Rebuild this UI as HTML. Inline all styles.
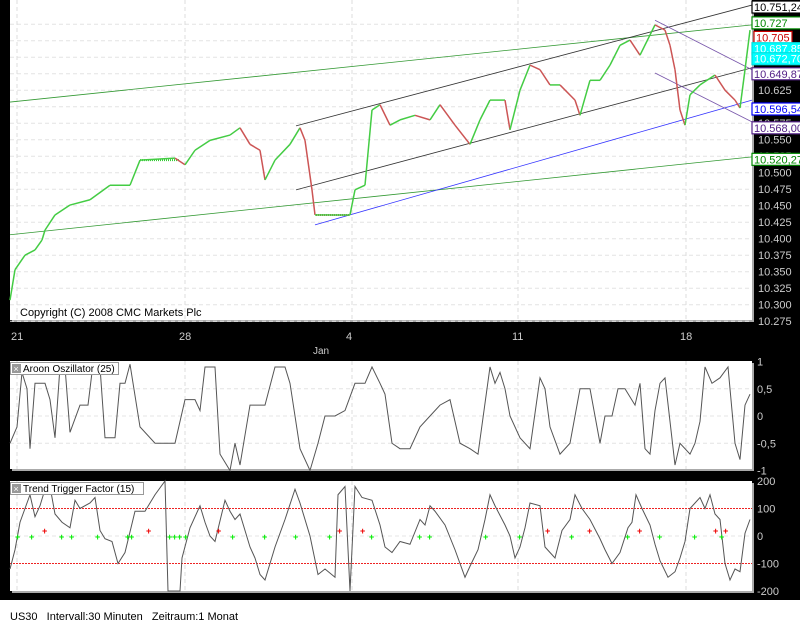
<!DOCTYPE html>
<html><head><meta charset="utf-8"><style>
html,body{margin:0;padding:0;background:#000;}
svg{display:block;font-family:"Liberation Sans",sans-serif;}
</style></head><body>
<svg id="c" width="800" height="625" xmlns="http://www.w3.org/2000/svg">
<rect x="0" y="0" width="800" height="625" fill="#000"/>
<rect x="0" y="600" width="800" height="25" fill="#fff"/>
<text x="10" y="620" font-size="11" fill="#000">US30&#160;&#160;&#160;Intervall:30 Minuten&#160;&#160;&#160;Zeitraum:1 Monat</text>
<g id="g"></g>
</svg>
<script>
// price data (time index, close)
const priceT=[10,15,25,35,42,45,55,70,90,110,130,140,175,185,195,210,230,240,250,260,265,275,290,300,305,312,315,330,350,355,365,372,380,390,400,415,430,440,455,470,480,490,505,510,520,530,540,550,560,575,580,590,600,610,620,630,640,655,665,670,675,680,685,690,700,715,725,735,740,745,750];
const priceV=[10.307,10.353,10.375,10.383,10.398,10.413,10.436,10.451,10.459,10.481,10.481,10.519,10.522,10.512,10.534,10.549,10.557,10.568,10.543,10.534,10.489,10.519,10.543,10.568,10.549,10.474,10.436,10.436,10.436,10.474,10.481,10.595,10.603,10.572,10.580,10.587,10.580,10.603,10.572,10.543,10.580,10.610,10.610,10.565,10.625,10.663,10.656,10.633,10.633,10.610,10.587,10.640,10.640,10.663,10.693,10.701,10.678,10.724,10.716,10.693,10.656,10.595,10.572,10.618,10.633,10.648,10.625,10.610,10.598,10.656,10.716];
const priceTicks=[10.275,10.300,10.325,10.350,10.375,10.400,10.425,10.450,10.475,10.500,10.525,10.550,10.575,10.600,10.625,10.650,10.675,10.700,10.725];
const dateTicks=[17,185,352,518,686];
const dateLabels=["21","28","4","11","18"];
const aroonT=[10,17,22,27,30,35,45,50,55,60,65,70,80,88,92,100,105,115,120,125,130,140,155,160,175,185,195,200,205,215,220,230,235,240,250,265,275,285,290,300,310,318,325,335,345,355,365,372,380,385,392,400,410,420,430,440,450,460,470,478,490,495,500,505,510,520,530,540,545,550,560,570,580,590,600,605,612,618,625,635,640,645,650,655,660,665,670,675,680,690,695,700,705,712,720,728,735,740,745,750];
const aroonV=[-0.5,-0.2,0.8,0.5,-0.6,0.6,0.6,0.3,-0.4,0.9,0.9,-0.3,0.2,0.2,0.8,0.9,-0.4,-0.4,0.6,0.6,0.95,-0.2,-0.5,-0.5,-0.5,0.3,0.3,0.1,0.9,0.9,-0.7,-1,-0.5,-0.9,0.2,0.2,0.9,0.9,0.6,-0.6,-1,-0.5,0,0,0.1,0.6,0.6,0.9,0.6,0.4,-0.5,-0.6,-0.6,-0.2,0,0.2,0.3,-0.5,-0.6,-0.7,0.9,0.6,0.8,0.5,0,-0.4,-0.6,0.7,0.5,-0.2,-0.7,-0.5,0.5,0.5,-0.5,0,0,0.5,0.5,0.2,0.6,-0.6,-0.7,0.1,0.6,0.7,-0.1,-0.9,-0.5,-0.7,-0.5,-0.1,0.9,0.6,0.7,0.9,-0.5,-0.8,0.2,0.4];
const aroonTicks=[1,0.5,0,-0.5,-1];
const aroonLabels=["1","0,5","0","-0,5","-1"];
const ttfT=[10,15,20,25,30,35,40,45,50,55,62,70,75,80,90,95,100,105,112,118,125,135,145,155,165,168,180,182,190,200,205,210,215,225,230,235,240,250,255,260,265,275,285,295,300,310,318,325,335,338,345,350,355,362,372,380,385,392,400,410,420,425,430,435,445,455,465,470,478,485,490,495,505,510,515,520,525,530,540,545,550,555,562,570,575,582,590,600,605,612,620,628,632,636,642,650,655,660,668,675,680,685,690,700,705,710,715,720,725,730,735,740,745,750];
const ttfV=[-120,-50,50,100,150,70,110,170,180,80,50,30,130,100,120,140,20,-10,-20,-100,-60,90,90,150,200,-200,-200,-80,30,110,50,0,-20,130,90,60,80,-40,-80,-140,-160,-40,60,170,120,0,-140,-120,-150,150,180,-200,180,140,130,40,-40,-60,-20,-30,60,40,110,90,40,-50,-150,-110,-50,60,150,110,40,0,-80,-40,30,120,110,-40,-60,-80,20,60,150,100,60,-10,-50,-100,-60,30,50,150,100,40,-30,-90,-150,-130,-80,-20,100,140,100,150,80,60,-100,-160,-120,-130,10,60];
const ttfTicks=[200,100,0,-100,-200];
const buyT=[18,32,62,72,98,128,132,170,175,180,186,233,265,296,330,372,420,430,486,520,572,628,660,695,722];
const sellT=[45,149,219,340,363,548,590,640,716,726];
// drawn objects
const lineT1=[10,10,296,296,315,655,655];
const lineP1=[10.607,10.406,10.571,10.474,10.421,10.731,10.651];
const lineT2=[752,752,752,752,752,752,752];
const lineP2=[10.724,10.524,10.754,10.659,10.610,10.656,10.577];
const lineC=["#339933","#339933","#333","#333","#3333ff","#7755aa","#7755aa"];
const labelV=[10.751,10.727,10.705,10.68785,10.6727,10.64987,10.59654,10.568,10.52027];
const labelTxt=["10.751,243","10.727","10.705","10.687,85","10.672,70","10.649,87","10.596,54","10.568,00","10.520,27"];
const labelCol=["#000","#008800","#cc0000","#00e0e0","#00e0e0","#552288","#0000ff","#552288","#008800"];

const NS="http://www.w3.org/2000/svg";
const g=document.getElementById('g');
function mk(tag,at,parent){const e=document.createElementNS(NS,tag);for(const k in at)e.setAttribute(k,at[k]);(parent||g).appendChild(e);return e;}
const L=10,R=752;
const x=t=>L+(t-10)*(R-L)/(752-10);
const yP=p=>40.7+(10.700-p)/0.025*16.5;
const yA=v=>416-v*54.5;
const yT=v=>536-v*0.275;

function panel(name,y0,h){
  const r=mk('rect',{x:L+2,y:y0+2,width:R-L,height:h,fill:'#aaa'});
  
  
  const p=mk('rect',{x:L,y:y0,width:R-L,height:h,fill:'#fff'});
  
  
}
panel('price-panel',0,320);
panel('aroon-panel',361,108);
panel('ttf-panel',481,110);

priceTicks.forEach(v=>{
  const l=mk('line',{x1:L,x2:R,y1:yP(v),y2:yP(v),stroke:'#e4e4e4','stroke-dasharray':'4,3'});
  
  
  const t=mk('text',{x:758,y:yP(v)+4,'font-size':11,fill:'#ccc'});
  t.textContent=v.toFixed(3);
  
  
});
dateTicks.forEach((d,i)=>{
  [[0,320],[361,469],[481,591]].forEach(([a,b])=>{
    const l=mk('line',{x1:x(d),x2:x(d),y1:a,y2:b,stroke:'#ddd','stroke-dasharray':'4,3'});
    
    
  });
  const t=mk('text',{x:x(d)-6,y:340,'font-size':11,fill:'#ccc'});
  t.textContent=dateLabels[i];
  
  
});
const jan=mk('text',{x:313,y:354,'font-size':10,fill:'#ccc'});jan.textContent='Jan';



lineT1.forEach((t,i)=>{
  const l=mk('line',{x1:x(t),y1:yP(lineP1[i]),x2:x(lineT2[i]),y2:yP(lineP2[i]),stroke:lineC[i],'stroke-width':0.8});
  
  
});
const f1=mk('line',{x1:x(140),x2:x(180),y1:yP(10.519),y2:yP(10.519),stroke:'#33cc33','stroke-width':2,'stroke-dasharray':'1,1'});


const f2=mk('line',{x1:x(316),x2:x(350),y1:yP(10.436),y2:yP(10.436),stroke:'#cc4444','stroke-width':2,'stroke-dasharray':'1,1'});



for(let i=1;i<priceT.length;i++){
  const up=priceV[i]>=priceV[i-1];
  const s=mk('line',{x1:x(priceT[i-1]),y1:yP(priceV[i-1]),x2:x(priceT[i]),y2:yP(priceV[i]),stroke:up?'#44cc44':'#cc5555','stroke-width':1.5});
  
  
}
const cp=mk('text',{x:20,y:316,'font-size':11,fill:'#000'});cp.textContent='Copyright (C) 2008 CMC Markets Plc';



labelV.forEach((v,i)=>{
  const cy=yP(v);const cyan=labelCol[i]==='#00e0e0';const w=i===2?38:50;
  const r=mk('rect',{x:i===2?754:752,y:cy-6,width:w,height:12,fill:cyan?'#00ffff':'#fff',stroke:labelCol[i],'stroke-width':1.2});
  
  
  const t=mk('text',{x:(i===2?756:754),y:cy+4,'font-size':11,fill:cyan?'#fff':labelCol[i]});
  t.textContent=labelTxt[i];
  
  
});

aroonTicks.forEach((v,i)=>{
  if(v!==1&&v!==-1){const l=mk('line',{x1:L,x2:R,y1:yA(v),y2:yA(v),stroke:'#e4e4e4','stroke-dasharray':'4,3'});
  
  }
  const t=mk('text',{x:757,y:yA(v)+4,'font-size':11,fill:'#ccc'});t.textContent=aroonLabels[i];
  
  
});
const ap=mk('polyline',{points:aroonT.map((t,i)=>x(t)+','+yA(aroonV[i])).join(' '),fill:'none',stroke:'#555','stroke-width':1});



ttfTicks.forEach(v=>{
  if(Math.abs(v)===100){const l=mk('line',{x1:L,x2:R,y1:yT(v),y2:yT(v),stroke:'#ee2222','stroke-dasharray':'2,1'});
  
  }
  if(v===0){const l=mk('line',{x1:L,x2:R,y1:yT(v),y2:yT(v),stroke:'#e4e4e4','stroke-dasharray':'4,3'});
  
  }
  const t=mk('text',{x:757,y:yT(v)+4,'font-size':11,fill:'#ccc'});t.textContent=String(v);
  
  
});
const tp=mk('polyline',{points:ttfT.map((t,i)=>x(t)+','+Math.max(481,Math.min(591,yT(ttfV[i])))).join(' '),fill:'none',stroke:'#555','stroke-width':1});


buyT.forEach(t=>{
  const m=mk('text',{x:x(t)-3,y:yT(0)+4,'font-size':9,'font-weight':'bold',fill:'#00ee00'});m.textContent='+';
  
  
});
sellT.forEach(t=>{
  const m=mk('text',{x:x(t)-3,y:yT(0)-2,'font-size':9,'font-weight':'bold',fill:'#ee0000'});m.textContent='+';
  
  
});

[['Aroon Oszillator (25)',362,108],['Trend Trigger Factor (15)',482,133]].forEach(([s,y0,w],i)=>{
  const r=mk('rect',{x:L+0.5,y:y0+0.5,width:w,height:12,fill:'#fff',stroke:'#999'});
  
  
  const b=mk('rect',{x:L+2,y:y0+2,width:9,height:9,fill:'#999'});
  
  
  const xx=mk('text',{x:L+3.5,y:y0+10,'font-size':9,fill:'#fff'});xx.textContent='×';
  
  
  const t=mk('text',{x:L+13,y:y0+10,'font-size':10,fill:'#000'});t.textContent=s;
  
  
});
</script>
</body></html>
